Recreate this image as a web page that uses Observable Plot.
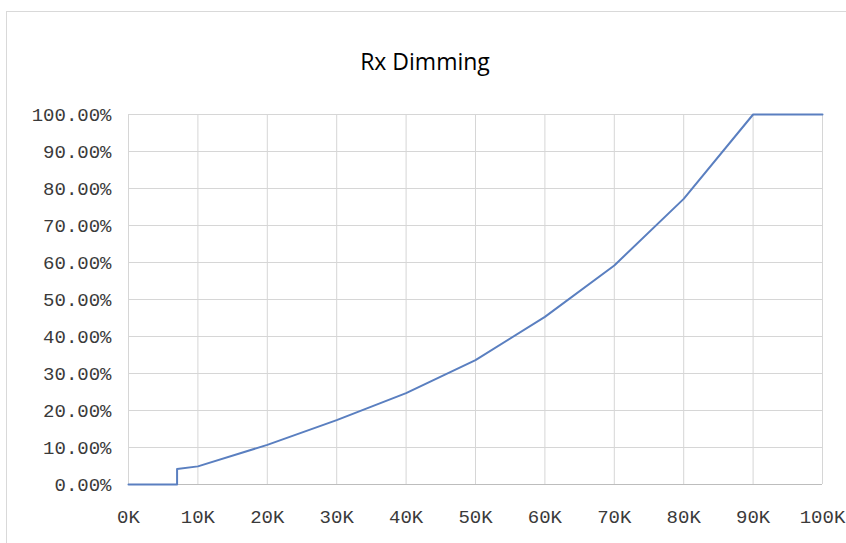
<!DOCTYPE html>
<html>
<head>
<meta charset="utf-8">
<script src="https://cdn.jsdelivr.net/npm/d3@7"></script>
<script src="https://cdn.jsdelivr.net/npm/@observablehq/plot@0.6"></script>
<style>
  html, body { margin: 0; padding: 0; background: #fff; }
  body { position: relative; width: 846px; height: 543px; overflow: hidden; }
  #frame { position: absolute; left: 6px; top: 11px; width: 850px; height: 540px;
           border-left: 1px solid #d9d9d9; border-top: 1px solid #d9d9d9; }
  #title { position: absolute; left: 0; top: 46px; width: 850px; text-align: center;
           font-family: "Open Sans", sans-serif; font-size: 23px; color: #000; line-height: 30px; }
  #chart { position: absolute; left: 0; top: 84px; }
</style>
</head>
<body>
<div id="frame"></div>
<div id="title">Rx Dimming</div>
<div id="chart"></div>
<script>
// Load (K) and dimming level (%)
const loadK   = [0, 7, 7,   10,  20,   30,   40,   50,   60,   70,   80,   90,  100];
const dimming = [0, 0, 4.2, 4.9, 10.7, 17.4, 24.7, 33.6, 45.3, 59.2, 77.2, 100, 100];
const xTicks = [0, 10, 20, 30, 40, 50, 60, 70, 80, 90, 100];
const yTicks = [0, 10, 20, 30, 40, 50, 60, 70, 80, 90, 100];

const data = loadK.map((x, i) => ({x, y: dimming[i]}));

const plot = Plot.plot({
  width: 846,
  height: 459,
  marginLeft: 128,
  marginRight: 24,
  marginTop: 30,
  marginBottom: 59,
  style: {fontFamily: "Liberation Mono, monospace", fontSize: "19px", color: "#3a3a3a", background: "transparent"},
  x: {domain: [0, 100], ticks: xTicks, tickFormat: d => d + "K", tickSize: 0, tickPadding: 25, label: null},
  y: {domain: [0, 100], ticks: yTicks, tickFormat: d => d.toFixed(2) + "%", tickSize: 0, tickPadding: 17, label: null},
  marks: [
    Plot.gridX(xTicks, {stroke: "#d6d6d6", strokeOpacity: 1}),
    Plot.gridY(yTicks, {stroke: "#d6d6d6", strokeOpacity: 1}),
    Plot.ruleY([0], {stroke: "#bdbdbd"}),
    Plot.axisX({ticks: xTicks, tickFormat: d => d + "K", tickSize: 0, tickPadding: 25}),
    Plot.axisY({ticks: yTicks, tickFormat: d => d.toFixed(2) + "%", tickSize: 0, tickPadding: 17}),
    Plot.line(data, {x: "x", y: "y", stroke: "#5a7fc0", strokeWidth: 2})
  ]
});
document.getElementById("chart").appendChild(plot);
</script>
</body>
</html>
